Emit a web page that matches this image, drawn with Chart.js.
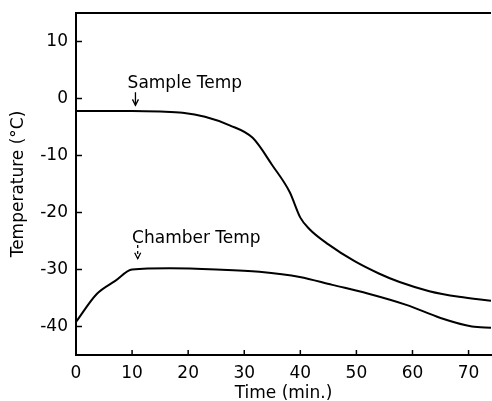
<!DOCTYPE html>
<html>
<head>
<meta charset="utf-8">
<script src="https://cdn.jsdelivr.net/npm/chart.js@4"></script>
<style>
  html, body { margin: 0; padding: 0; background: #fff; }
  #wrap { width: 492px; height: 401px; }
</style>
</head>
<body>
<div id="wrap"><canvas id="chart"></canvas></div>
<script>
// values
const sampleTime = [0, 5, 10, 15, 19, 23, 27.4, 31.5, 35, 38.1, 40, 41.6, 45, 49.6, 54, 57.7, 63, 68.3, 74];
const sampleTemp = [-2.2, -2.2, -2.2, -2.3, -2.5, -3.2, -4.7, -6.9, -11.7, -16.4, -20.9, -22.9, -25.6, -28.5, -30.7, -32.2, -33.8, -34.8, -35.5];
const chamberTime = [0, 3.7, 7, 10, 16.7, 25, 32.7, 39.9, 45.7, 52, 58.9, 65, 70.6, 74];
const chamberTemp = [-39.2, -34.3, -32.0, -30.0, -29.8, -30.0, -30.4, -31.3, -32.7, -34.2, -36.2, -38.5, -40.0, -40.2];
const xTicks = [0, 10, 20, 30, 40, 50, 60, 70];
const yTicks = [-40, -30, -20, -10, 0, 10];

const FONT = '"DejaVu Sans", sans-serif';

const toPoints = (xs, ys) => xs.map((x, i) => ({ x: x, y: ys[i] }));

// inner tick marks, top frame line and the two callouts
const decorations = {
    id: 'decorations',
    afterDatasetsDraw(chart) {
        const { ctx, chartArea } = chart;
        const xs = chart.scales.x;
        const ys = chart.scales.y;
        ctx.save();
        ctx.strokeStyle = '#000';
        ctx.lineWidth = 2;
        ctx.beginPath();
        ctx.moveTo(chartArea.left, chartArea.top);
        ctx.lineTo(chartArea.right, chartArea.top);
        ctx.stroke();

        ctx.lineWidth = 1.5;
        yTicks.forEach(v => {
            const py = ys.getPixelForValue(v);
            ctx.beginPath();
            ctx.moveTo(chartArea.left, py);
            ctx.lineTo(chartArea.left + 6, py);
            ctx.stroke();
        });
        xTicks.forEach(v => {
            const px = xs.getPixelForValue(v);
            ctx.beginPath();
            ctx.moveTo(px, chartArea.bottom);
            ctx.lineTo(px, chartArea.bottom - 5);
            ctx.stroke();
        });

        ctx.fillStyle = '#000';
        ctx.font = '17px ' + FONT;
        ctx.textBaseline = 'alphabetic';
        ctx.fillText('Sample Temp', xs.getPixelForValue(9.2), ys.getPixelForValue(1.9));
        ctx.fillText('Chamber Temp', xs.getPixelForValue(10), ys.getPixelForValue(-25.3));

        const arrow = (t, v0, v1, dashed) => {
            const px = xs.getPixelForValue(t);
            const y0 = ys.getPixelForValue(v0);
            const y1 = ys.getPixelForValue(v1);
            ctx.lineWidth = 1.3;
            ctx.setLineDash(dashed ? [3, 3] : []);
            ctx.beginPath();
            ctx.moveTo(px, y0);
            ctx.lineTo(px, y1);
            ctx.stroke();
            ctx.setLineDash([]);
            ctx.beginPath();
            ctx.moveTo(px - 3, y1 - 6);
            ctx.lineTo(px, y1);
            ctx.lineTo(px + 3, y1 - 6);
            ctx.stroke();
        };
        arrow(10.6, 1.1, -1.2, false);
        arrow(11.0, -25.7, -28.1, true);
        ctx.restore();
    }
};

const ctx = document.getElementById('chart').getContext('2d');
new Chart(ctx, {
    type: 'line',
    data: {
        datasets: [
            {
                label: 'Sample Temp',
                data: toPoints(sampleTime, sampleTemp),
                borderColor: '#000',
                borderWidth: 2,
                pointRadius: 0,
                cubicInterpolationMode: 'monotone'
            },
            {
                label: 'Chamber Temp',
                data: toPoints(chamberTime, chamberTemp),
                borderColor: '#000',
                borderWidth: 2,
                pointRadius: 0,
                cubicInterpolationMode: 'monotone'
            }
        ]
    },
    options: {
        responsive: true,
        maintainAspectRatio: false,
        animation: false,
        layout: { padding: { top: 13, right: 1, left: 0, bottom: 0 } },
        plugins: {
            legend: { display: false },
            tooltip: { enabled: false }
        },
        scales: {
            x: {
                type: 'linear',
                min: 0,
                max: 74,
                afterBuildTicks: (scale) => { scale.ticks = xTicks.map(v => ({ value: v })); },
                afterFit: (scale) => { scale.height = 46; scale.paddingLeft = 0; scale.paddingRight = 0; },
                grid: { drawOnChartArea: false, drawTicks: false },
                border: { color: '#000', width: 2 },
                ticks: { color: '#000', padding: 8, maxRotation: 0, font: { family: FONT, size: 17 } },
                title: {
                    display: true,
                    text: 'Time (min.)',
                    color: '#000',
                    padding: { top: 0, bottom: -3 },
                    font: { family: FONT, size: 17 }
                }
            },
            y: {
                min: -45,
                max: 15,
                afterBuildTicks: (scale) => { scale.ticks = yTicks.map(v => ({ value: v })); },
                afterFit: (scale) => { scale.width = 76; scale.paddingTop = 0; scale.paddingBottom = 0; },
                grid: { drawOnChartArea: false, drawTicks: false },
                border: { color: '#000', width: 2 },
                ticks: { color: '#000', padding: 8, font: { family: FONT, size: 17 } },
                title: {
                    display: true,
                    text: 'Temperature (°C)',
                    color: '#000',
                    padding: { top: 8, bottom: 0 },
                    font: { family: FONT, size: 17 }
                }
            }
        }
    },
    plugins: [decorations]
});
</script>
</body>
</html>
